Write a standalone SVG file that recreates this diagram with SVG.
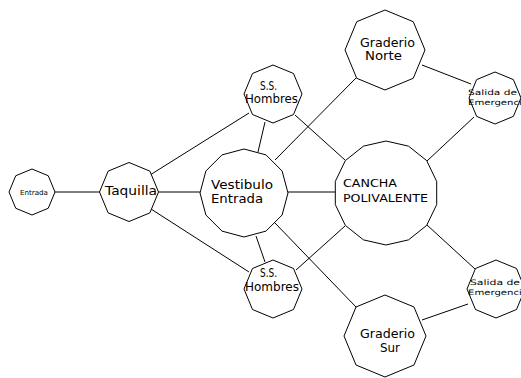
<svg xmlns="http://www.w3.org/2000/svg" width="521" height="378" viewBox="0 0 521 378">
<style>
.bg{fill:#fff}
.n polygon{fill:#fff;stroke:#000;stroke-width:1}
.c line{stroke:#000;stroke-width:1}
text{font-family:"DejaVu Sans","Liberation Sans",sans-serif;fill:#000}
.s7{font-size:7px}
.s8{font-size:7.5px}
.s10{font-size:10.5px}
.s11{font-size:11.5px}
.s12{font-size:12px}
</style>
<rect class="bg" x="0" y="0" width="521" height="378"/>
<g id="connectors" class="c">
<line x1="55" y1="192" x2="99.5" y2="192"/>
<line x1="150" y1="175" x2="249" y2="113"/>
<line x1="158.5" y1="192" x2="200" y2="192"/>
<line x1="151" y1="209" x2="249" y2="272"/>
<line x1="265" y1="122" x2="258" y2="152"/>
<line x1="295" y1="115" x2="345" y2="160"/>
<line x1="275" y1="160" x2="356" y2="78"/>
<line x1="288" y1="192" x2="335" y2="192"/>
<line x1="256" y1="236" x2="265" y2="262"/>
<line x1="275" y1="223" x2="356" y2="307"/>
<line x1="296" y1="270" x2="345" y2="226"/>
<line x1="422" y1="65" x2="471" y2="84"/>
<line x1="427" y1="161" x2="474" y2="117"/>
<line x1="427" y1="225" x2="475" y2="269"/>
<line x1="422" y1="320" x2="468" y2="304"/>
</g>
<g id="entrada" class="n">
<polygon points="32,169 48.26,175.74 55,192 48.26,208.26 32,215 15.74,208.26 9,192 15.74,175.74"/>
<text class="s7" x="20" y="195" textLength="28" lengthAdjust="spacingAndGlyphs">Entrada</text>
</g>
<g id="taquilla" class="n">
<polygon points="129,162.5 149.86,171.14 158.5,192 149.86,212.86 129,221.5 108.14,212.86 99.5,192 108.14,171.14"/>
<text class="s11" x="105" y="195" textLength="52" lengthAdjust="spacingAndGlyphs">Taquilla</text>
</g>
<g id="ss-hombres-norte" class="n">
<polygon points="273,65 293.51,73.49 302,94 293.51,114.51 273,123 252.49,114.51 244,94 252.49,73.49"/>
<text class="s11" x="260" y="90" textLength="17" lengthAdjust="spacingAndGlyphs">S.S.</text>
<text class="s11" x="245" y="103" textLength="53" lengthAdjust="spacingAndGlyphs">Hombres</text>
</g>
<g id="ss-hombres-sur" class="n">
<polygon points="273,260 293.51,268.49 302,289 293.51,309.51 273,318 252.49,309.51 244,289 252.49,268.49"/>
<text class="s11" x="260" y="277" textLength="17" lengthAdjust="spacingAndGlyphs">S.S.</text>
<text class="s11" x="245" y="290.5" textLength="54" lengthAdjust="spacingAndGlyphs">Hombres</text>
</g>
<g id="vestibulo" class="n">
<polygon points="244,149 266,154.9 282.1,171 288,193 282.1,215 266,231.1 244,237 222,231.1 205.9,215 200,193 205.9,171 222,154.9"/>
<text class="s12" x="211" y="189" textLength="62" lengthAdjust="spacingAndGlyphs">Vestibulo</text>
<text class="s12" x="211" y="203" textLength="52" lengthAdjust="spacingAndGlyphs">Entrada</text>
</g>
<g id="cancha" class="n">
<polygon points="386,141 408.56,146.15 426.65,160.58 436.7,181.43 436.7,204.57 426.65,225.42 408.56,239.85 386,245 363.44,239.85 345.35,225.42 335.3,204.57 335.3,181.43 345.35,160.58 363.44,146.15"/>
<text class="s10" x="343" y="187" textLength="54" lengthAdjust="spacingAndGlyphs">CANCHA</text>
<text class="s10" x="343" y="201.5" textLength="85" lengthAdjust="spacingAndGlyphs">POLIVALENTE</text>
</g>
<g id="graderio-norte" class="n">
<polygon points="385,10 413.28,21.72 425,50 413.28,78.28 385,90 356.72,78.28 345,50 356.72,21.72"/>
<text class="s11" x="360" y="47" textLength="55" lengthAdjust="spacingAndGlyphs">Graderio</text>
<text class="s11" x="365" y="60" textLength="37" lengthAdjust="spacingAndGlyphs">Norte</text>
</g>
<g id="graderio-sur" class="n">
<polygon points="385,295 413.99,307.01 426,336 413.99,364.99 385,377 356.01,364.99 344,336 356.01,307.01"/>
<text class="s11" x="360" y="338" textLength="55" lengthAdjust="spacingAndGlyphs">Graderio</text>
<text class="s11" x="380" y="351.5" textLength="20" lengthAdjust="spacingAndGlyphs">Sur</text>
</g>
<g id="salida-norte" class="n">
<polygon points="495,72 513.38,79.62 521,98 513.38,116.38 495,124 476.62,116.38 469,98 476.62,79.62"/>
<text class="s8" x="468" y="95" textLength="49" lengthAdjust="spacingAndGlyphs">Salida de</text>
<text class="s8" x="468" y="105" textLength="60" lengthAdjust="spacingAndGlyphs">Emergencia</text>
</g>
<g id="salida-sur" class="n">
<polygon points="496,260 516.51,268.49 525,289 516.51,309.51 496,318 475.49,309.51 467,289 475.49,268.49"/>
<text class="s8" x="470" y="285" textLength="50" lengthAdjust="spacingAndGlyphs">Salida de</text>
<text class="s8" x="468" y="295" textLength="60" lengthAdjust="spacingAndGlyphs">Emergencia</text>
</g>
</svg>
